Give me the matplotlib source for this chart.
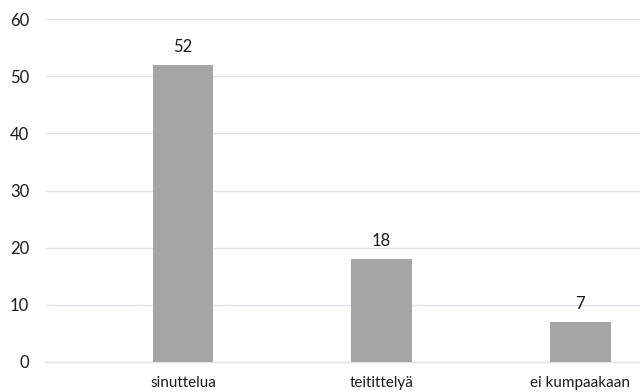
import matplotlib
matplotlib.use('Agg')
import matplotlib.pyplot as plt

categories = ['sinuttelua', 'teitittelyä', 'ei kumpaakaan']
values = [52, 18, 7]
yticks = [0, 10, 20, 30, 40, 50, 60]

plt.rcParams['font.family'] = ['Lato', 'DejaVu Sans']

fig = plt.figure(figsize=(6.4, 3.92), dpi=100)
# axes placement in figure fraction (left 46px, top ~19px, bottom ~362px)
ax = fig.add_axes([46 / 640, 1 - 361.7 / 392, 1 - 46 / 640, (361.7 - 19.3) / 392])

xs = list(range(len(categories)))
bars = ax.bar(xs, values, width=0.307, color='#a5a5a5', zorder=3)

for x, v in zip(xs, values):
    ax.annotate(str(v), xy=(x, v), xytext=(0, 7), textcoords='offset points',
                ha='center', va='bottom', fontsize=12, color='#1a1a1a')

ax.set_ylim(0, 60)
ax.set_xlim(-0.690, 2.302)
ax.set_yticks(yticks)
ax.set_xticks(xs)
ax.set_xticklabels(categories)
ax.yaxis.grid(True, color='#dfe3e8', linewidth=1.0, zorder=0)
ax.set_axisbelow(True)

for s in ['top', 'right', 'left']:
    ax.spines[s].set_visible(False)
ax.spines['bottom'].set_color('#dfe3e8')
ax.spines['bottom'].set_linewidth(1.0)

ax.tick_params(axis='y', length=0, pad=12, labelsize=12, labelcolor='#1a1a1a')
ax.tick_params(axis='x', length=0, pad=10, labelsize=11, labelcolor='#1a1a1a')

fig.savefig('out.png', dpi=100)
